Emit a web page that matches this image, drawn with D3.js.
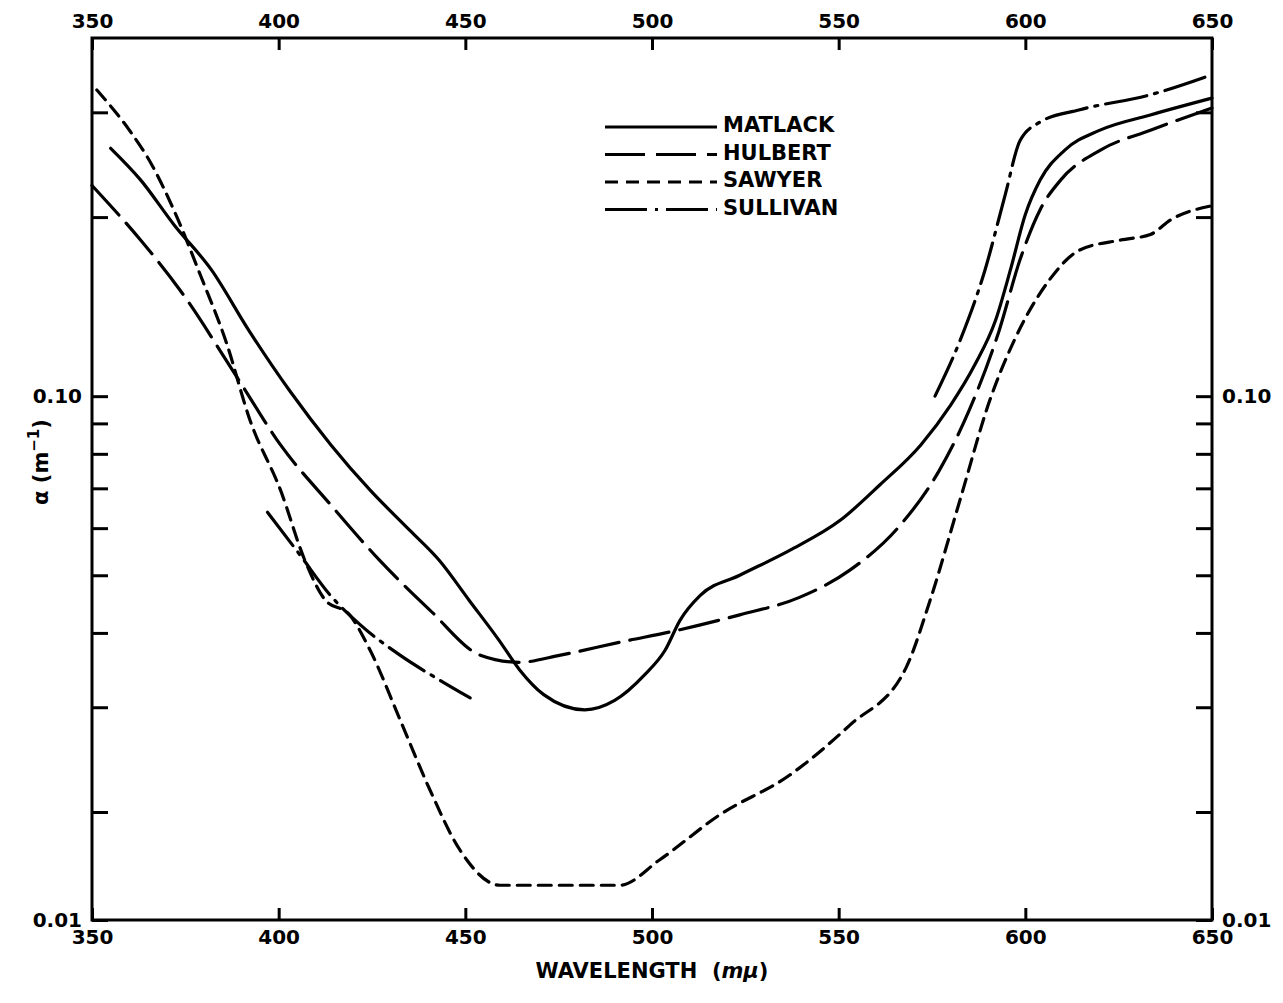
<!DOCTYPE html>
<html>
<head>
<meta charset="utf-8">
<script src="https://cdn.jsdelivr.net/npm/d3@7"></script>
<style>
  html, body { margin: 0; padding: 0; background: #fff; }
  svg { display: block; }
  text { font-family: "DejaVu Sans", "Liberation Sans", sans-serif; font-weight: bold; fill: #000; }
</style>
</head>
<body>
<svg id="chart" width="1283" height="1003"></svg>
<script>
// ---- data (wavelength in mμ, attenuation α in m^-1) ----
const matlackWl = [355, 363, 372, 382, 392, 403, 414, 424.5, 435, 443, 451, 459, 464.5, 471, 482, 490, 498, 503.5, 507.5, 513, 523.5, 537, 550.5, 561, 572, 580, 586.5, 592, 596, 600, 604, 610.5, 620, 633.5, 650];
const matlackA  = [0.261, 0.231, 0.194, 0.163, 0.129, 0.102, 0.0828, 0.0695, 0.0596, 0.0530, 0.0454, 0.0389, 0.0347, 0.0315, 0.0297, 0.0308, 0.0340, 0.0374, 0.0420, 0.0463, 0.0500, 0.0551, 0.0619, 0.0709, 0.0828, 0.0966, 0.113, 0.134, 0.163, 0.202, 0.231, 0.259, 0.280, 0.297, 0.317];

const hulbertWl = [350, 363, 373.5, 389.5, 400.5, 414, 427, 440.5, 454, 464.5, 475.5, 491.5, 507.5, 523.5, 539.5, 553, 566.5, 577, 585, 593, 598.5, 604, 609.5, 620, 633.5, 650];
const hulbertA  = [0.226, 0.183, 0.151, 0.106, 0.0828, 0.0656, 0.0530, 0.0437, 0.0367, 0.0357, 0.0367, 0.0386, 0.0405, 0.0429, 0.0459, 0.0510, 0.0607, 0.0751, 0.0948, 0.129, 0.169, 0.206, 0.231, 0.259, 0.280, 0.305];

const sawyerWl = [351.3, 360, 366, 372, 379, 386, 392.3, 400.5, 407, 412.5, 419, 424.5, 432.5, 440.5, 448.5, 459.3, 491.4, 502, 518, 537, 553, 568, 574.5, 582.5, 590.5, 597, 606.5, 614.5, 625.5, 633.5, 639, 650];
const sawyerA  = [0.327, 0.280, 0.245, 0.205, 0.160, 0.123, 0.0912, 0.0695, 0.0530, 0.0454, 0.0429, 0.0374, 0.0286, 0.0218, 0.0157, 0.0125, 0.0125, 0.0147, 0.0196, 0.0231, 0.0280, 0.0349, 0.0454, 0.0669, 0.0985, 0.124, 0.157, 0.176, 0.183, 0.187, 0.198, 0.209];

const sullivanLeftWl = [397, 405.7, 413.8, 421.8, 432.5, 443.2, 451.3];
const sullivanLeftA  = [0.0638, 0.0541, 0.0463, 0.0413, 0.0367, 0.0333, 0.0311];
const sullivanRightWl = [575.8, 582.5, 589.2, 594.6, 598.6, 604, 614.6, 633.4, 650];
const sullivanRightA  = [0.100, 0.124, 0.163, 0.218, 0.269, 0.289, 0.303, 0.321, 0.347];

const xTicks = [350, 400, 450, 500, 550, 600, 650];
const yTicks = [0.01, 0.02, 0.03, 0.04, 0.05, 0.06, 0.07, 0.08, 0.09, 0.10, 0.2, 0.3];
const yLabelled = [0.01, 0.10];
const seriesNames = ["MATLACK", "HULBERT", "SAWYER", "SULLIVAN"];

(function () {
// ---- layout ----
const pL = 92, pR = 1212, pT = 38, pB = 920;
const svg = d3.select("#chart");

const x = d3.scaleLinear().domain([350, 650]).range([pL, pR]);
// the printed ordinate is logarithmic from 0.02 upward, with the 0.01 end compressed
const y = d3.scaleLog().domain([0.01, 0.02, 0.4]).range([pB, 812, pT]);

const styles = {
  MATLACK: null,
  HULBERT: "40,11",
  SAWYER: "13,8",
  SULLIVAN: "42,8,3,8"
};

// ---- frame ----
svg.append("rect")
  .attr("x", pL).attr("y", pT)
  .attr("width", pR - pL).attr("height", pB - pT)
  .attr("fill", "none").attr("stroke", "#000").attr("stroke-width", 3);

// ---- axes ----
const fmtY = d => (yLabelled.includes(d) ? d.toFixed(2) : "");
const axL = d3.axisLeft(y).tickValues(yTicks).tickFormat(fmtY).tickSizeInner(-16).tickSizeOuter(0).tickPadding(10);
const axR = d3.axisRight(y).tickValues(yTicks).tickFormat(fmtY).tickSizeInner(-16).tickSizeOuter(0).tickPadding(10);
const axT = d3.axisTop(x).tickValues(xTicks).tickFormat(d3.format("d")).tickSizeInner(-12).tickSizeOuter(0).tickPadding(10);
const axB = d3.axisBottom(x).tickValues(xTicks).tickFormat(d3.format("d")).tickSizeInner(-12).tickSizeOuter(0).tickPadding(10);

function styleAxis(g) {
  g.select(".domain").remove();
  g.selectAll(".tick line").attr("stroke", "#000").attr("stroke-width", 3);
  g.selectAll(".tick text").style("font-size", "20px").attr("fill", "#000");
}
svg.append("g").attr("transform", `translate(${pL},0)`).call(axL).call(styleAxis);
svg.append("g").attr("transform", `translate(${pR},0)`).call(axR).call(styleAxis);
svg.append("g").attr("transform", `translate(0,${pT})`).call(axT).call(styleAxis);
svg.append("g").attr("transform", `translate(0,${pB})`).call(axB).call(styleAxis);

// ---- curves ----
const line = d3.line().x(d => x(d[0])).y(d => y(d[1])).curve(d3.curveMonotoneX);
const zip = (a, b) => a.map((v, i) => [v, b[i]]);

function drawCurve(data, name) {
  svg.append("path")
    .datum(data)
    .attr("d", line)
    .attr("fill", "none")
    .attr("stroke", "#000")
    .attr("stroke-width", 3.2)
    .attr("stroke-linecap", "round")
    .attr("stroke-dasharray", styles[name]);
}
drawCurve(zip(matlackWl, matlackA), "MATLACK");
drawCurve(zip(hulbertWl, hulbertA), "HULBERT");
drawCurve(zip(sawyerWl, sawyerA), "SAWYER");
drawCurve(zip(sullivanLeftWl, sullivanLeftA), "SULLIVAN");
drawCurve(zip(sullivanRightWl, sullivanRightA), "SULLIVAN");

// ---- legend ----
const legend = svg.append("g").attr("transform", "translate(605,127)");
seriesNames.forEach((name, i) => {
  const g = legend.append("g").attr("transform", `translate(0,${i * 27.5})`);
  g.append("line").attr("x1", 0).attr("x2", 112).attr("y1", 0).attr("y2", 0)
    .attr("stroke", "#000").attr("stroke-width", 3.2)
    .attr("stroke-dasharray", styles[name]);
  g.append("text").attr("x", 118).attr("y", 5).style("font-size", "21px").text(name);
});

// ---- titles ----
svg.append("text")
  .attr("x", (pL + pR) / 2).attr("y", 978)
  .attr("text-anchor", "middle")
  .style("font-size", "21px")
  .html('WAVELENGTH&#160;&#160;(<tspan font-style="italic">mμ</tspan>)');

const yt = svg.append("text")
  .attr("transform", "translate(48,462) rotate(-90)")
  .attr("text-anchor", "middle")
  .style("font-size", "21px");
yt.append("tspan").text("α  (m");
yt.append("tspan").attr("dy", -9).style("font-size", "15px").text("−1");
yt.append("tspan").attr("dy", 9).text(")");
})();
</script>
</body>
</html>
